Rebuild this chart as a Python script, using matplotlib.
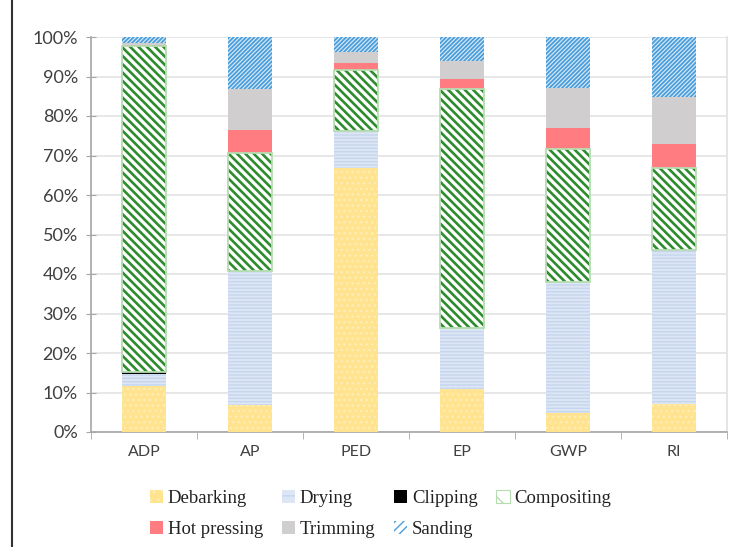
import matplotlib
matplotlib.use("Agg")
import matplotlib.pyplot as plt
import numpy as np
from matplotlib.patches import Patch
from matplotlib.ticker import PercentFormatter

categories = ["ADP", "AP", "PED", "EP", "GWP", "RI"]
debarking   = [11.6, 6.8, 66.8, 11.0, 4.9, 7.1]
drying      = [3.0, 34.0, 9.5, 15.4, 33.0, 39.0]
clipping    = [0.5, 0.0, 0.0, 0.0, 0.0, 0.0]
compositing = [82.6, 29.9, 15.3, 60.4, 33.7, 20.7]
hot_pressing = [0.4, 5.8, 1.7, 2.6, 5.3, 6.0]
trimming    = [0.4, 10.3, 2.8, 4.6, 10.1, 12.1]
sanding     = [1.5, 13.2, 3.9, 6.0, 13.0, 15.1]

series_names = ["Debarking", "Drying", "Clipping", "Compositing",
                "Hot pressing", "Trimming", "Sanding"]
series = [debarking, drying, clipping, compositing, hot_pressing, trimming, sanding]

# style: face, hatch, hatch color, edge color, hatch linewidth
styles = {
    "Debarking":    ("#FFE38F", "...", "#FFEDB8", "none", 1.0),
    "Drying":       ("#DCE6F4", "-----", "#C6D6EE", "none", 1.0),
    "Clipping":     ("#000000", None, None, "none", 1.0),
    "Compositing":  ("#FFFFFF", "\\\\\\\\", "#2E8B2E", "#B5DDB0", 1.9),
    "Hot pressing": ("#FF7C80", None, None, "none", 1.0),
    "Trimming":     ("#D0CECE", None, None, "none", 1.0),
    "Sanding":      ("#DDEBF7", "////////", "#4A9EDC", "none", 1.3),
}

fig = plt.figure(figsize=(7.39, 5.47), dpi=100)
ax = fig.add_axes([91/739, 1-432/547, (727-91)/739, (432-37)/547])

x = np.arange(len(categories))
width = 0.42
bottom = np.zeros(len(categories))
for name, vals in zip(series_names, series):
    vals = np.array(vals, dtype=float)
    face, hatch, hcol, ecol, hlw = styles[name]
    ax.bar(x, vals, width, bottom=bottom, color=face, edgecolor="none",
           linewidth=0, zorder=3)
    if hatch:
        with plt.rc_context({'hatch.linewidth': hlw}):
            bars = ax.bar(x, vals, width, bottom=bottom, facecolor="none",
                          edgecolor=hcol, hatch=hatch, linewidth=0, zorder=3.1)
            for b in bars:
                try:
                    b.set_hatch_linewidth(hlw)
                except Exception:
                    pass
    if ecol != "none":
        ax.bar(x, vals, width, bottom=bottom, facecolor="none", edgecolor=ecol,
               linewidth=1.3, zorder=3.2)
    bottom += vals

ax.set_xlim(-0.5, len(categories) - 0.5)
ax.set_ylim(0, 100)
ax.set_yticks(np.arange(0, 101, 10))
ax.yaxis.set_major_formatter(PercentFormatter(decimals=0))
ax.set_xticks(x)
ax.set_xticklabels(categories)
ax.set_xticks(np.arange(-0.5, len(categories) + 0.5, 1), minor=True)
ax.tick_params(axis='x', which='major', length=0, pad=9, labelsize=11.5,
               labelcolor="#404040")
ax.tick_params(axis='x', which='minor', length=5, direction='out', color="#A6A6A6")
ax.tick_params(axis='y', length=7, direction='inout', color="#A6A6A6",
               labelsize=13, labelcolor="#404040", pad=6)
for lab in ax.get_xticklabels() + ax.get_yticklabels():
    lab.set_family("Lato")

ax.grid(axis='y', color="#E3E3E3", linewidth=1.2, zorder=0)
ax.set_axisbelow(True)
for s in ["left", "bottom"]:
    ax.spines[s].set_color("#A6A6A6")
    ax.spines[s].set_linewidth(1.2)
ax.spines["right"].set_color("#E0E0E0")
ax.spines["right"].set_linewidth(1.2)
ax.spines["top"].set_visible(False)

# legend (row order: Debarking, Drying, Clipping, Compositing / Hot pressing, Trimming, Sanding)
def handle(name):
    face, hatch, hcol, ecol, hlw = styles[name]
    if hatch and ecol != "none":
        return Patch(facecolor=face, edgecolor=ecol, hatch="\\", linewidth=0.8)
    if hatch and name == "Sanding":
        return Patch(facecolor="#FFFFFF", edgecolor=hcol, hatch="////", linewidth=0)
    if hatch:
        return Patch(facecolor=face, edgecolor=hcol, hatch=hatch[:2], linewidth=0)
    return Patch(facecolor=face, edgecolor="none")

order = ["Debarking", "Hot pressing", "Drying", "Trimming", "Clipping",
         "Sanding", "Compositing"]
leg = fig.legend([handle(n) for n in order], order, ncol=4, frameon=False,
                 loc="center", bbox_to_anchor=(0.515, 1 - 514/547),
                 prop={"family": "Liberation Serif", "size": 13.5},
                 handlelength=0.7, handleheight=0.7, handletextpad=0.25,
                 columnspacing=1.0, labelspacing=0.75)
for t in leg.get_texts():
    t.set_color("#222222")

# figure left border line
fig.add_artist(plt.Line2D([12/739, 12/739], [0, 1], transform=fig.transFigure,
                          color="#333333", linewidth=1.5))

fig.savefig("out.png", dpi=100)
